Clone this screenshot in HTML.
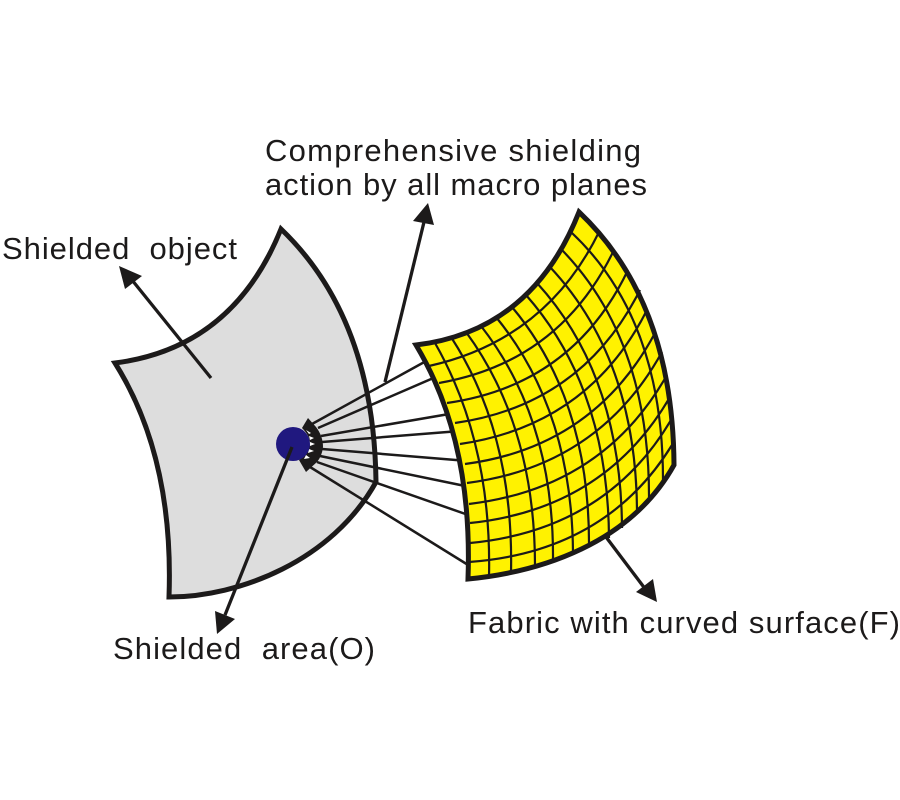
<!DOCTYPE html>
<html>
<head>
<meta charset="utf-8">
<style>
html,body{margin:0;padding:0;background:#fff;width:900px;height:800px;overflow:hidden}
svg{display:block}
text{font-family:"Liberation Sans",Arial,sans-serif;font-size:31px;fill:#1c1a1a}
</style>
</head>
<body>
<svg width="900" height="800" viewBox="0 0 900 800" xmlns="http://www.w3.org/2000/svg">
<rect width="900" height="800" fill="#fff"/>
<!-- shielded object -->
<path d="M115 363 Q233 348 281 229 Q374 318 376 482 C332 561 239 597 169 597 Q174 457 115 363 Z" fill="#dddddd" stroke="#1c1a1a" stroke-width="5" stroke-linejoin="miter"/>
<!-- rays -->
<g stroke="#1c1a1a" stroke-width="2.5" fill="none">
<path d="M428 360L312 424"/>
<path d="M438 376L318 428"/>
<path d="M455 413L321 436"/>
<path d="M460 431L322 442"/>
<path d="M468 461L322 449"/>
<path d="M470 487L320 456"/>
<path d="M474 517L317 462"/>
<path d="M473 568L310 467"/>
</g>
<!-- fabric -->
<path d="M416 345 Q532 331 579 212 Q673 301 674 465 C630 544 540 572 468 579 Q473 440 416 345 Z" fill="#fff200"/>
<g fill="none" stroke="#1c1a1a" stroke-width="2.2">
<path d="M435 343Q492 443 489 577"/>
<path d="M451 337Q514 434 511 573"/>
<path d="M466 332Q535 426 535 566"/>
<path d="M481 326Q554 419 553 560"/>
<path d="M496 317Q572 410 573 553"/>
<path d="M512 307Q590 400 589 547"/>
<path d="M526 295Q608 388 609 538"/>
<path d="M537 283Q621 375 622 528"/>
<path d="M550 267Q637 360 637 514"/>
<path d="M562 250Q650 341 649 500"/>
<path d="M572 233Q663 319 663 480"/>
<path d="M429 366Q546 340 599 232"/>
<path d="M439 383Q560 362 614 250"/>
<path d="M447 403Q573 385 628 270"/>
<path d="M455 423Q582 405 640 290"/>
<path d="M460 444Q589 425 647 310"/>
<path d="M465 464Q594 447 655 333"/>
<path d="M467 483Q599 466 662 352"/>
<path d="M469 504Q603 488 667 375"/>
<path d="M470 523Q605 509 670 397"/>
<path d="M470 543Q606 530 671 420"/>
<path d="M469 562Q606 552 672 445"/>
</g>
<path d="M416 345 Q532 331 579 212 Q673 301 674 465 C630 544 540 572 468 579 Q473 440 416 345 Z" fill="none" stroke="#1c1a1a" stroke-width="5"/>
<!-- converging arrowheads -->
<path d="M308 418L316 427Q323 436 323 447Q322 456 317 462L306 472L299 460L303 457Q309 450 310 444Q310 436 302 428Z" fill="#1c1a1a"/>
<g fill="#fff">
<path d="M306 430L311 433L309 434Z"/>
<path d="M309 436L314 438L310 440Z"/>
<path d="M310 442L315 444L310 446Z"/>
<path d="M309 449L314 451L308 453Z"/>
<path d="M306 455L310 458L304 459Z"/>
</g>
<circle cx="293" cy="444" r="17" fill="#20187f"/>
<!-- leader arrows -->
<g stroke="#1c1a1a" stroke-width="3.3" fill="none">
<path d="M211 378L132 280"/>
<path d="M385 382L424 222"/>
<path d="M606 537L646 590"/>
<path d="M292 447L225 615"/>
</g>
<g fill="#1c1a1a">
<path d="M119 266L142 276L125 289Z"/>
<path d="M428 203L413 221L434 225Z"/>
<path d="M657 602L636 592L653 579Z"/>
<path d="M217 634L215 611L235 619Z"/>
</g>
<text x="265" y="161" textLength="376" lengthAdjust="spacing">Comprehensive shielding</text>
<text x="265" y="195" textLength="382" lengthAdjust="spacing">action by all macro planes</text>
<text x="2" y="259" textLength="235" lengthAdjust="spacing" xml:space="preserve">Shielded  object</text>
<text x="113" y="659" textLength="262" lengthAdjust="spacing" xml:space="preserve">Shielded  area(O)</text>
<text x="468" y="633" textLength="432" lengthAdjust="spacing">Fabric with curved surface(F)</text>
</svg>
</body>
</html>
